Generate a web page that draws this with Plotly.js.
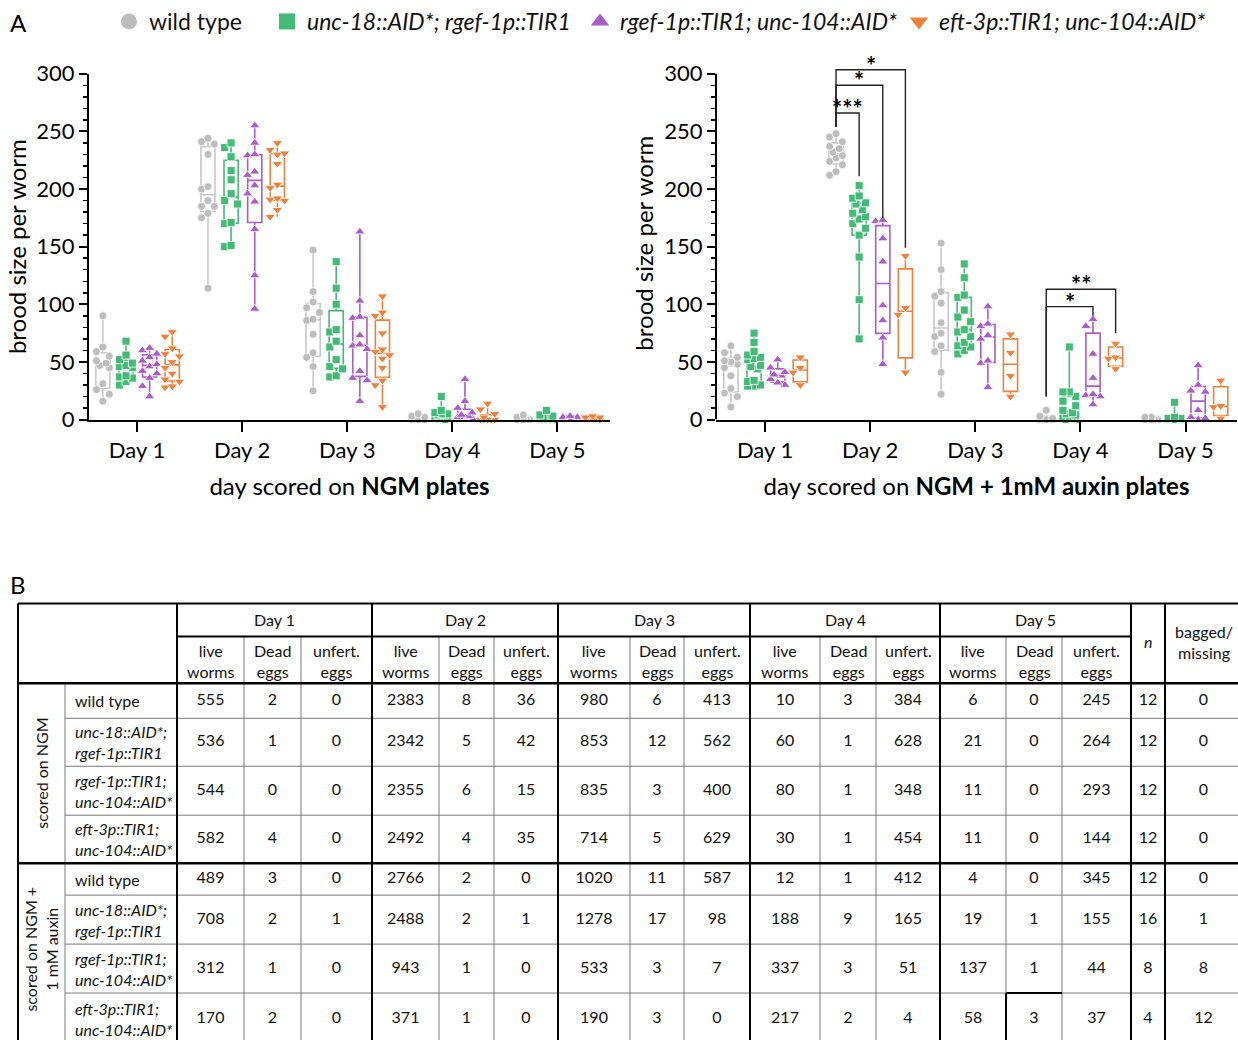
<!DOCTYPE html>
<html><head><meta charset="utf-8">
<script src="https://cdn.plot.ly/plotly-3.0.1.min.js"></script>
<style>html,body{margin:0;padding:0;background:#fff}#chart{width:1238px;height:1040px}</style>
</head><body><div id="chart"></div>
<script>
// ================= DATA =================
const days = ['Day 1', 'Day 2', 'Day 3', 'Day 4', 'Day 5'];
const genotypeNames = ['wild type', '<i>unc-18::AID*; rgef-1p::TIR1</i>', '<i>rgef-1p::TIR1; unc-104::AID*</i>', '<i>eft-3p::TIR1; unc-104::AID*</i>'];

// brood size per worm, scored on NGM plates (one inner list per day)
const ngmWT = [
  [16,22,26,31,45,47,49,51,55,59,63,90],
  [114,175,179,185,185,190,200,202,230,239,241,244],
  [25,46,54,58,74,86,87,93,97,102,111,147],
  [0,0,0,0,0,0,0,0,0,2,3,5],
  [0,0,0,0,0,0,0,0,0,0,2,4]
];
const ngmUnc18 = [
  [30,33,36,37,38,45,46,47,49,52,56,68],
  [150,151,170,171,187,190,196,208,216,228,236,240],
  [37,38,44,46,52,63,68,76,78,100,114,137],
  [0,1,2,2,3,4,4,5,5,6,8,20],
  [0,0,0,0,0,1,1,2,2,3,4,8]
];
const ngmRgef104 = [
  [20,29,36,40,42,46,48,51,54,57,60,62],
  [96,125,165,189,196,203,212,215,229,230,240,255],
  [16,34,36,42,61,64,65,73,88,89,103,163],
  [0,0,1,1,2,2,3,4,6,10,16,35],
  [0,0,0,0,0,1,1,1,1,2,2,3]
];
const ngmEft104 = [
  [28,29,33,35,40,45,50,55,57,62,72,76],
  [176,182,190,191,192,201,204,222,230,231,234,240],
  [11,30,34,45,53,56,59,61,75,90,93,107],
  [0,0,0,0,0,0,0,0,2,5,9,14],
  [0,0,0,0,0,1,1,1,1,2,2,3]
];
// brood size per worm, scored on NGM + 1 mM auxin plates
const auxWT = [
  [11,20,23,27,38,45,48,50,51,54,58,64],
  [212,215,221,224,227,229,232,235,237,241,245,248],
  [22,41,59,64,72,75,84,101,107,111,130,153],
  [0,0,0,0,0,0,0,0,0,1,3,8],
  [0,0,0,0,0,0,0,0,0,0,2,2]
];
const auxUnc18 = [
  [29,29,30,33,34,44,46,47,52,53,54,56,59,67,75],
  [70,104,141,160,166,170,174,176,179,182,187,188,192,194,203],
  [57,60,63,64,67,72,76,78,85,89,95,106,108,123,135],
  [0,0,1,2,3,4,5,6,8,12,16,20,24,24,63],
  [0,0,0,0,0,0,0,0,0,0,0,1,1,2,15]
];
const auxRgef104 = [
  [30,32,35,38,39,41,45,52],
  [48,71,86,99,137,157,172,173],
  [28,49,51,70,73,81,83,98],
  [13,20,21,22,36,57,81,87],
  [0,1,2,8,24,25,30,47]
];
const auxEft104 = [
  [30,41,45,54],
  [41,91,97,142],
  [20,38,58,74],
  [44,53,54,66],
  [1,11,12,34]
];

// significance annotations (auxin panel)
const sigDay   = [2, 2, 2, 4, 4];
const sigGroup = [1, 2, 3, 2, 3];
const sigText  = ['***', '*', '*', '*', '**'];

// Table B
const tableDays = ['Day 1', 'Day 2', 'Day 3', 'Day 4', 'Day 5'];
const subHeads = ['live<br>worms', 'Dead<br>eggs', 'unfert.<br>eggs'];
const groupLabels = ['scored on NGM', 'scored on NGM +<br>1 mM auxin'];
const strainLabels = ['wild type', '<i>unc-18::AID*;</i><br><i>rgef-1p::TIR1</i>', '<i>rgef-1p::TIR1;</i><br><i>unc-104::AID*</i>', '<i>eft-3p::TIR1;</i><br><i>unc-104::AID*</i>'];
const tblNgmWT     = [555,2,0, 2383,8,36, 980,6,413, 10,3,384, 6,0,245, 12,0];
const tblNgmUnc18  = [536,1,0, 2342,5,42, 853,12,562, 60,1,628, 21,0,264, 12,0];
const tblNgmRgef   = [544,0,0, 2355,6,15, 835,3,400, 80,1,348, 11,0,293, 12,0];
const tblNgmEft    = [582,4,0, 2492,4,35, 714,5,629, 30,1,454, 11,0,144, 12,0];
const tblAuxWT     = [489,3,0, 2766,2,0, 1020,11,587, 12,1,412, 4,0,345, 12,0];
const tblAuxUnc18  = [708,2,1, 2488,2,1, 1278,17,98, 188,9,165, 19,1,155, 16,1];
const tblAuxRgef   = [312,1,0, 943,1,0, 533,3,7, 337,3,51, 137,1,44, 8,8];
const tblAuxEft    = [170,2,0, 371,1,0, 190,3,0, 217,2,4, 58,3,37, 4,12];

// ================= STYLE / LAYOUT CONSTANTS =================
const FONT = 'Lato, "Open Sans", sans-serif';
const colors = ['#BDBDBD', '#43BA78', '#A95CC9', '#F07F3B'];
const boxColors = ['#C8C8C8', '#43BA78', '#A95CC9', '#F07F3B'];
const symbols = ['circle', 'square', 'triangle-up', 'triangle-down'];
const msize = [8, 8, 9, 9];
const offsets = [-0.325, -0.105, 0.12, 0.335];
const BOX_W = 0.135;
const PX_X = 105.0, PX_Y = 1.154;
const W = 1238, H = 1040;

// bracket geometry (values in y units)
const sigBarY   = [266, 290, 303.5, 98, 113];
const sigLeftY  = [254, 254, 254, 20, 20];
const sigRightY = [211, 175, 149, 90, 75];

// table geometry in pixels
const colEdges = [18, 65, 177, 244, 301, 372, 439, 494, 558, 630, 684, 750, 820, 876, 940, 1006, 1062, 1131, 1165, 1242];
const rowEdges = [603, 636, 683, 718, 766, 815, 863, 895, 944, 993, 1045];

// ================= HELPERS =================
function quantile(s, p) {
  const n = s.length, pos = p * (n + 1);
  if (pos <= 1) return s[0];
  if (pos >= n) return s[n - 1];
  const lo = Math.floor(pos);
  return s[lo - 1] + (pos - lo) * (s[lo] - s[lo - 1]);
}
function dodge(vals, cx, diam) {
  const placed = [], xs = new Array(vals.length);
  const order = vals.map((v, i) => i).sort((a, b) => vals[b] - vals[a]);
  const step = diam * 0.8;
  order.forEach(i => {
    const y = vals[i] * PX_Y;
    let best = 0, bestD = -1;
    for (const c of [0, -1, 1, -0.5, 0.5]) {
      const x = c * step;
      let minD = Infinity;
      placed.forEach(p => { minD = Math.min(minD, Math.hypot(p[0] - x, p[1] - y)); });
      if (minD >= diam) { best = x; bestD = minD; break; }
      if (minD > bestD) { bestD = minD; best = x; }
    }
    placed.push([best, y]);
    xs[i] = cx + best / PX_X;
  });
  return xs;
}

const traces = [];
function addPanel(sets, xa, ya) {
  sets.forEach((set, g) => {
    const pos = days.map((d, i) => i + 1 + offsets[g]);
    const sorted = set.map(v => v.slice().sort((a, b) => a - b));
    traces.push({
      type: 'box', xaxis: xa, yaxis: ya, x: pos,
      q1: sorted.map(s => quantile(s, 0.25)),
      median: sorted.map(s => quantile(s, 0.5)),
      q3: sorted.map(s => quantile(s, 0.75)),
      lowerfence: sorted.map(s => s[0]),
      upperfence: sorted.map(s => s[s.length - 1]),
      width: BOX_W, whiskerwidth: 0, boxpoints: false,
      line: {color: boxColors[g], width: 1.6}, fillcolor: 'rgba(255,255,255,0)',
      showlegend: false, hoverinfo: 'skip'
    });
  });
  sets.forEach((set, g) => {
    const xs = [], ys = [];
    set.forEach((vals, d) => {
      const jx = dodge(vals, d + 1 + offsets[g], msize[g]);
      vals.forEach((v, i) => { xs.push(jx[i]); ys.push(v); });
    });
    traces.push({
      type: 'scatter', mode: 'markers', xaxis: xa, yaxis: ya, x: xs, y: ys,
      marker: {symbol: symbols[g], size: msize[g], color: colors[g], line: {color: '#ffffff', width: 0.8}},
      cliponaxis: false, showlegend: false, hoverinfo: 'skip'
    });
  });
}
addPanel([ngmWT, ngmUnc18, ngmRgef104, ngmEft104], 'x', 'y');
addPanel([auxWT, auxUnc18, auxRgef104, auxEft104], 'x2', 'y2');

// legend entries (no data of their own)
const legendIds = ['legend', 'legend2', 'legend3', 'legend4'];
genotypeNames.forEach((name, g) => {
  traces.push({
    type: 'scatter', mode: 'markers', x: [null], y: [null], xaxis: 'x', yaxis: 'y', name: name,
    legend: legendIds[g], showlegend: true, hoverinfo: 'skip',
    marker: {symbol: symbols[g], size: 16, color: colors[g]}
  });
});

// table numbers as a text trace
const tblRows = [tblNgmWT, tblNgmUnc18, tblNgmRgef, tblNgmEft, tblAuxWT, tblAuxUnc18, tblAuxRgef, tblAuxEft];
const tx = [], ty = [], tt = [];
tblRows.forEach((row, r) => {
  const yc = (rowEdges[r + 2] + rowEdges[r + 3]) / 2;
  row.forEach((v, c) => {
    tx.push((colEdges[c + 2] + colEdges[c + 3]) / 2);
    ty.push(yc);
    tt.push(String(v));
  });
});
traces.push({
  type: 'scatter', mode: 'text', xaxis: 'x3', yaxis: 'y3', x: tx, y: ty, text: tt,
  textposition: 'middle center', textfont: {family: FONT, size: 16, color: '#111'},
  cliponaxis: false, showlegend: false, hoverinfo: 'skip'
});

// ================= SHAPES & ANNOTATIONS =================
const shapes = [], annotations = [];
// y spine of auxin panel (0..300)
shapes.push({type: 'line', xref: 'x2 domain', yref: 'y2', x0: 0, x1: 0, y0: 0, y1: 300, line: {color: '#000', width: 2}});
// significance brackets
sigDay.forEach((d, k) => {
  const xl = d + offsets[0], xr = d + offsets[sigGroup[k]];
  shapes.push({type: 'path', xref: 'x2', yref: 'y2',
    path: `M${xl},${sigLeftY[k]} L${xl},${sigBarY[k]} L${xr},${sigBarY[k]} L${xr},${sigRightY[k]}`,
    line: {color: '#222', width: 1.4}});
  annotations.push({xref: 'x2', yref: 'y2', x: (xl + xr) / 2, y: sigBarY[k], text: '<b>' + sigText[k] + '</b>',
    showarrow: false, xanchor: 'center', yanchor: 'bottom', yshift: -12,
    font: {family: FONT, size: 24, color: '#000'}});
});

// panel letters
annotations.push({xref: 'paper', yref: 'paper', x: 8 / W, y: 1 - 22 / H, text: 'A', showarrow: false, xanchor: 'left', yanchor: 'middle', font: {family: FONT, size: 24, color: '#000'}});
annotations.push({xref: 'paper', yref: 'paper', x: 8 / W, y: 1 - 584 / H, text: 'B', showarrow: false, xanchor: 'left', yanchor: 'middle', font: {family: FONT, size: 24, color: '#000'}});

// table lines
function tline(x0, y0, x1, y1, w, c) {
  shapes.push({type: 'line', xref: 'x3', yref: 'y3', x0, y0, x1, y1, line: {color: c, width: w}});
}
const yTop = rowEdges[0], yBot = rowEdges[rowEdges.length - 1];
const thin = '#7a7a7a';
[3, 4, 5, 7, 8, 9].forEach(i => tline(colEdges[1], rowEdges[i], W, rowEdges[i], 1, thin));
[3, 4, 6, 7, 9, 10, 12, 13, 15, 16].forEach(i => tline(colEdges[i], rowEdges[1], colEdges[i], yBot, 1, thin));
tline(colEdges[1], rowEdges[2], colEdges[1], yBot, 1, thin);
tline(colEdges[0], yTop, W, yTop, 2, '#000');
tline(colEdges[2], rowEdges[1], colEdges[17], rowEdges[1], 2, '#000');
tline(colEdges[0], rowEdges[2], W, rowEdges[2], 2.5, '#000');
tline(colEdges[0], rowEdges[6], W, rowEdges[6], 2.5, '#000');
tline(colEdges[0], yTop, colEdges[0], yBot, 2, '#000');
[2, 5, 8, 11, 14, 17, 18].forEach(i => tline(colEdges[i], yTop, colEdges[i], yBot, 2, '#000'));
tline(colEdges[15], rowEdges[9], colEdges[16], rowEdges[9], 2, '#000');
tline(colEdges[15], rowEdges[9], colEdges[15], yBot, 2, '#000');

function tcell(x, y, text, opt) {
  annotations.push(Object.assign({xref: 'x3', yref: 'y3', x, y, text, showarrow: false,
    xanchor: 'center', yanchor: 'middle', font: {family: FONT, size: 16, color: '#111'}}, opt || {}));
}
tableDays.forEach((d, k) => {
  tcell((colEdges[2 + 3 * k] + colEdges[5 + 3 * k]) / 2, (rowEdges[0] + rowEdges[1]) / 2, d);
  subHeads.forEach((txt, j) => {
    tcell((colEdges[2 + 3 * k + j] + colEdges[3 + 3 * k + j]) / 2, (rowEdges[1] + rowEdges[2]) / 2 + 1, txt);
  });
});
tcell((colEdges[17] + colEdges[18]) / 2, (rowEdges[0] + rowEdges[2]) / 2 - 2, '<i>n</i>');
tcell((colEdges[18] + colEdges[19]) / 2, (rowEdges[0] + rowEdges[2]) / 2 - 1, 'bagged/<br>missing');
for (let r = 0; r < 8; r++) {
  tcell(colEdges[1] + 8, (rowEdges[r + 2] + rowEdges[r + 3]) / 2, strainLabels[r % 4], {xanchor: 'left', align: 'left'});
}
groupLabels.forEach((txt, gi) => {
  const yc = (rowEdges[2 + 4 * gi] + rowEdges[6 + 4 * gi]) / 2 + (gi === 1 ? -5 : 0);
  tcell((colEdges[0] + colEdges[1]) / 2, yc, txt, {textangle: -90});
});

// ================= LAYOUT =================
const yDomBottom = 1 - 419 / H;
const axisFont = {family: FONT, size: 22, color: '#000'};
const titleFont = {family: FONT, size: 24, color: '#000'};
const xCommon = {
  tickmode: 'array', tickvals: [1, 2, 3, 4, 5], ticktext: days,
  ticks: 'outside', ticklen: 10, tickwidth: 2, tickcolor: '#000',
  showline: true, linewidth: 2, linecolor: '#000', showgrid: false, zeroline: false,
  tickfont: axisFont, fixedrange: true
};
const yCommon = {
  tickmode: 'linear', tick0: 0, dtick: 50,
  ticks: 'outside', ticklen: 8, tickwidth: 2, tickcolor: '#000',
  minor: {dtick: 10, ticks: 'outside', ticklen: 4, tickwidth: 1.5, tickcolor: '#000', showgrid: false},
  showgrid: false, zeroline: false, tickfont: axisFont, fixedrange: true,
  title: {text: 'brood size per worm', font: titleFont, standoff: 3}
};
const legendBase = {orientation: 'h', xanchor: 'left', yanchor: 'middle', y: 1 - 21 / H,
  bgcolor: 'rgba(0,0,0,0)', borderwidth: 0, font: {family: FONT, size: 23, color: '#111'},
  itemclick: false, itemdoubleclick: false};
const legendX = [109, 267, 580, 899];

const layout = {
  width: W, height: H, margin: {l: 0, r: 0, t: 0, b: 0},
  paper_bgcolor: '#fff', plot_bgcolor: 'rgba(0,0,0,0)',
  font: {family: FONT, color: '#000'},
  showlegend: true, hovermode: false, boxmode: 'overlay',
  xaxis: Object.assign({}, xCommon, {domain: [89 / W, 610 / W], range: [0.543, 5.5], anchor: 'y',
    title: {text: 'day scored on <b>NGM plates</b>', font: titleFont, standoff: 16}}),
  yaxis: Object.assign({}, yCommon, {domain: [yDomBottom, 1 - (419 - 300 * PX_Y) / H], range: [0, 300], anchor: 'x',
    showline: true, linewidth: 2, linecolor: '#000'}),
  xaxis2: Object.assign({}, xCommon, {domain: [716 / W, 1237 / W], range: [0.533, 5.49], anchor: 'y2',
    title: {text: 'day scored on <b>NGM + 1mM auxin plates</b>', font: titleFont, standoff: 16}}),
  yaxis2: Object.assign({}, yCommon, {domain: [yDomBottom, 1 - (419 - 306 * PX_Y) / H], range: [0, 306], anchor: 'x2',
    showline: false}),
  xaxis3: {domain: [0, 1], range: [0, W], visible: false, fixedrange: true, anchor: 'y3'},
  yaxis3: {domain: [0, 1 - 598 / H], range: [1040, 598], visible: false, fixedrange: true, anchor: 'x3'},
  shapes: shapes, annotations: annotations
};
legendIds.forEach((id, g) => { layout[id] = Object.assign({}, legendBase, {x: legendX[g] / W}); });

Plotly.newPlot('chart', traces, layout, {displayModeBar: false, staticPlot: true});
</script>
</body></html>
